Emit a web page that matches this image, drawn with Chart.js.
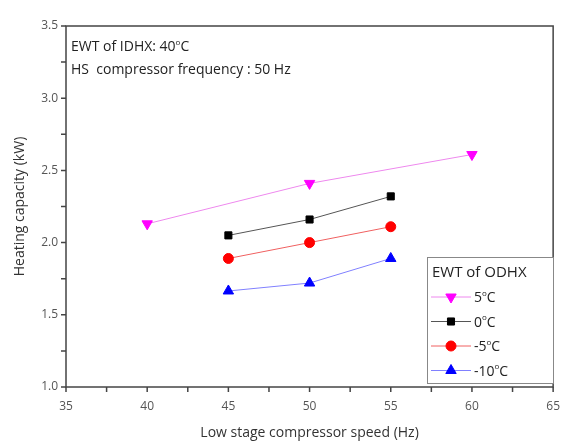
<!DOCTYPE html>
<html>
<head>
<meta charset="utf-8">
<script src="https://cdn.jsdelivr.net/npm/chart.js@4/dist/chart.umd.min.js"></script>
<style>
  html, body { margin: 0; padding: 0; background: #fff; }
  #wrap { width: 567px; height: 441px; }
</style>
</head>
<body>
<div id="wrap"><canvas id="chart" width="567" height="441"></canvas></div>
<script>
// speeds (Hz) and heating capacity (kW) per ODHX water temperature
var speeds5 = [40, 50, 60];
var cap5 = [2.13, 2.41, 2.61];
var speeds0 = [45, 50, 55];
var cap0 = [2.05, 2.16, 2.32];
var speedsM5 = [45, 50, 55];
var capM5 = [1.89, 2.00, 2.11];
var speedsM10 = [45, 50, 55];
var capM10 = [1.665, 1.72, 1.89];

var seriesNames = ['5', '0', '-5', '-10'];
var xTickLabels = [35, 40, 45, 50, 55, 60, 65];
var yTickLabels = [1.0, 1.5, 2.0, 2.5, 3.0, 3.5];

var FONT = "'Open Sans', 'Liberation Sans', sans-serif";

function pts(xs, ys) {
    return xs.map(function (x, i) { return { x: x, y: ys[i] }; });
}

// draw "text" + superscript o + "C"
function degText(ctx, before, after, x, y, size) {
    ctx.font = size + 'px ' + FONT;
    ctx.fillText(before, x, y);
    var w = ctx.measureText(before).width;
    ctx.font = Math.round(size * 0.6) + 'px ' + FONT;
    ctx.fillText('o', x + w, y - size * 0.45);
    var w2 = ctx.measureText('o').width;
    ctx.font = size + 'px ' + FONT;
    ctx.fillText(after, x + w + w2, y);
}

var boxAndNotes = {
    id: 'boxAndNotes',
    afterDraw: function (chart) {
        var ctx = chart.ctx;
        var a = chart.chartArea;
        var xs = chart.scales.x, ys = chart.scales.y;
        ctx.save();
        ctx.strokeStyle = '#444';
        ctx.lineWidth = 1.5;
        ctx.strokeRect(a.left, a.top, a.right - a.left, a.bottom - a.top);

        // outward ticks, major and minor
        ctx.beginPath();
        for (var v = 35; v <= 65; v += 2.5) {
            var px = xs.getPixelForValue(v);
            ctx.moveTo(px, a.bottom);
            ctx.lineTo(px, a.bottom + 5);
        }
        for (var k = 0; k <= 10; k++) {
            var py = ys.getPixelForValue(1 + k * 0.25);
            ctx.moveTo(a.left, py);
            ctx.lineTo(a.left - 5, py);
        }
        ctx.stroke();

        ctx.fillStyle = '#222';
        ctx.textBaseline = 'alphabetic';
        ctx.textAlign = 'left';
        degText(ctx, 'EWT of IDHX: 40', 'C', a.left + 5, a.top + 25, 14);
        ctx.font = '14px ' + FONT;
        ctx.fillText('HS  compressor frequency : 50 Hz', a.left + 5, a.top + 48);

        // legend box
        var lx = 427, ly = 257, lw = 126, lh = 126;
        ctx.fillStyle = '#fff';
        ctx.fillRect(lx, ly, lw, lh);
        ctx.strokeStyle = '#888';
        ctx.lineWidth = 1;
        ctx.strokeRect(lx + 0.5, ly + 0.5, lw, lh);
        ctx.fillStyle = '#222';
        ctx.font = '15px ' + FONT;
        ctx.fillText('EWT of ODHX', lx + 5, ly + 20);
        chart.data.datasets.forEach(function (ds, i) {
            var cy = ly + 40 + i * 24.5;
            ctx.strokeStyle = ds.borderColor;
            ctx.lineWidth = 1;
            ctx.beginPath();
            ctx.moveTo(lx + 4, cy);
            ctx.lineTo(lx + 44, cy);
            ctx.stroke();
            ctx.fillStyle = ds.backgroundColor;
            ctx.strokeStyle = ds.pointBorderColor;
            Chart.helpers.drawPoint(ctx, {
                pointStyle: ds.pointStyle,
                radius: ds.pointRadius,
                rotation: ds.pointRotation || 0,
                borderWidth: 1
            }, lx + 24, cy);
            ctx.fillStyle = '#222';
            degText(ctx, seriesNames[i], 'C', lx + 47, cy + 5, 14);
        });
        ctx.restore();
    }
};

var ctx = document.getElementById('chart').getContext('2d');
var chart = new Chart(ctx, {
    type: 'line',
    data: {
        datasets: [{
            label: '5°C',
            data: pts(speeds5, cap5),
            borderColor: '#ee88ee',
            backgroundColor: '#ff00ff',
            pointBorderColor: '#ff00ff',
            pointStyle: 'triangle',
            pointRotation: 180,
            pointRadius: 6,
            borderWidth: 1
        }, {
            label: '0°C',
            data: pts(speeds0, cap0),
            borderColor: '#555555',
            backgroundColor: '#000000',
            pointBorderColor: '#000000',
            pointStyle: 'rect',
            pointRadius: 5,
            borderWidth: 1
        }, {
            label: '-5°C',
            data: pts(speedsM5, capM5),
            borderColor: '#f06060',
            backgroundColor: '#ff0000',
            pointBorderColor: '#ff0000',
            pointStyle: 'circle',
            pointRadius: 5,
            borderWidth: 1
        }, {
            label: '-10°C',
            data: pts(speedsM10, capM10),
            borderColor: '#8080ff',
            backgroundColor: '#0000ff',
            pointBorderColor: '#0000ff',
            pointStyle: 'triangle',
            pointRadius: 6,
            borderWidth: 1
        }]
    },
    options: {
        responsive: false,
        animation: false,
        layout: { padding: { left: 8, right: 12, top: 26, bottom: 0 } },
        plugins: {
            legend: { display: false },
            tooltip: { enabled: false }
        },
        scales: {
            x: {
                type: 'linear',
                min: 35,
                max: 65,
                afterFit: function (s) { s.height = 54; },
                afterBuildTicks: function (s) {
                    s.ticks = xTickLabels.map(function (v) { return { value: v }; });
                },
                ticks: {
                    autoSkip: false,
                    maxRotation: 0,
                    color: '#555',
                    font: { family: FONT, size: 12 },
                    padding: 7
                },
                grid: { display: true, drawOnChartArea: false, drawTicks: true, tickLength: 5, color: 'rgba(0,0,0,0)' },
                border: { display: false },
                title: {
                    display: true,
                    text: 'Low stage compressor speed (Hz)',
                    color: '#333',
                    font: { family: FONT, size: 14 },
                    padding: { top: 10, bottom: 0 }
                }
            },
            y: {
                min: 1.0,
                max: 3.5,
                afterFit: function (s) { s.width = 58; },
                afterBuildTicks: function (s) {
                    s.ticks = yTickLabels.map(function (v) { return { value: v }; });
                },
                ticks: {
                    autoSkip: false,
                    color: '#555',
                    font: { family: FONT, size: 12 },
                    padding: 3,
                    callback: function (v) { return v.toFixed(1); }
                },
                grid: { display: true, drawOnChartArea: false, drawTicks: true, tickLength: 5, color: 'rgba(0,0,0,0)' },
                border: { display: false },
                title: {
                    display: true,
                    text: 'Heating capacity (kW)',
                    color: '#333',
                    font: { family: FONT, size: 14 },
                    padding: { bottom: 4 }
                }
            }
        }
    },
    plugins: [boxAndNotes]
});
</script>
</body>
</html>
